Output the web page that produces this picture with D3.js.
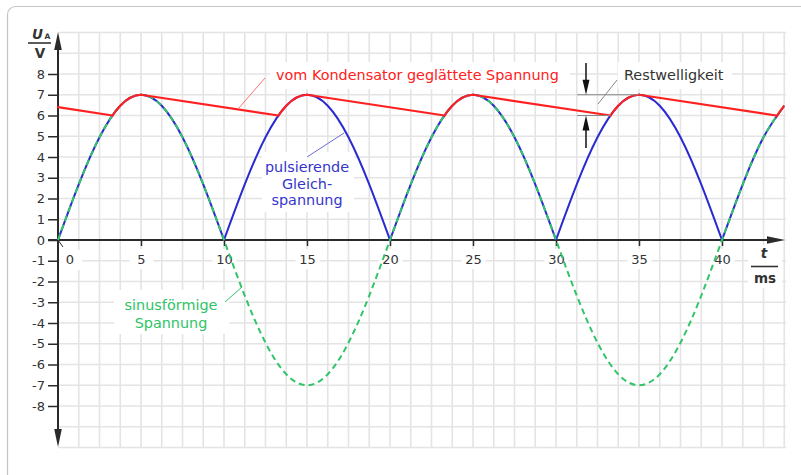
<!DOCTYPE html>
<html>
<head>
<meta charset="utf-8">
<script src="https://cdn.jsdelivr.net/npm/d3@7"></script>
<style>
  html, body { margin: 0; padding: 0; background: #fff; }
  svg { display: block; font-family: "DejaVu Sans", Verdana, sans-serif; }
</style>
</head>
<body>
<svg id="chart" width="801" height="475"></svg>
<script>
// Sample times (ms) on the 1.25 ms grid
const timeMs = [0, 1.25, 2.5, 3.75, 5, 6.25, 7.5, 8.75, 10, 11.25, 12.5, 13.75, 15, 16.25, 17.5, 18.75,
                20, 21.25, 22.5, 23.75, 25, 26.25, 27.5, 28.75, 30, 31.25, 32.5, 33.75, 35, 36.25, 37.5, 38.75,
                40, 41.25, 42.5, 43.75];
// Sinusoidal voltage (V)
const sineVolts = [0, 2.68, 4.95, 6.47, 7, 6.47, 4.95, 2.68, 0, -2.68, -4.95, -6.47, -7, -6.47, -4.95, -2.68,
                   0, 2.68, 4.95, 6.47, 7, 6.47, 4.95, 2.68, 0, -2.68, -4.95, -6.47, -7, -6.47, -4.95, -2.68,
                   0, 2.68, 4.95, 6.47];
// Full-wave rectified (pulsating DC) voltage (V)
const pulsedVolts = [0, 2.68, 4.95, 6.47, 7, 6.47, 4.95, 2.68, 0, 2.68, 4.95, 6.47, 7, 6.47, 4.95, 2.68,
                     0, 2.68, 4.95, 6.47, 7, 6.47, 4.95, 2.68, 0, 2.68, 4.95, 6.47, 7, 6.47, 4.95, 2.68,
                     0, 2.68, 4.95, 6.47];
// Capacitor-smoothed voltage: corner points (discharge lines, charging follows the rectified wave)
const smoothTimes = [0, 3.28, 5, 13.28, 15, 23.28, 25, 33.28, 35, 43.28, 43.75];
const smoothVolts = [6.4, 6.0, 7, 6.0, 7, 6.0, 7, 6.0, 7, 6.0, 6.47];

const xTickValues = [5, 10, 15, 20, 25, 30, 35, 40];
const yTickValues = [8, 7, 6, 5, 4, 3, 2, 1, 0, -1, -2, -3, -4, -5, -6, -7, -8];

const colors = { red: "#ff2020", blue: "#2a2ad2", green: "#33c46a", axis: "#2a2a2a", grid: "#e4e4e4", text: "#333" };

const svg = d3.select("#chart");

// Scales: 1 ms = 16.6 px, 1 V = 20.75 px
const x = d3.scaleLinear().domain([0, 43.75]).range([58, 58 + 43.75 * 16.6]);
const y = d3.scaleLinear().domain([-10, 10]).range([447.5, 32.5]);

// Card frame
svg.append("rect").attr("x", 7.5).attr("y", 6.5).attr("width", 830).attr("height", 520)
  .attr("rx", 8).attr("fill", "#fff").attr("stroke", "#c4c4c4").attr("stroke-width", 1.2);

// Grid
const grid = svg.append("g").attr("stroke", colors.grid).attr("stroke-width", 1.6);
const gridTimes = d3.range(1, 36).map(k => k * 1.25);
const gridVolts = d3.range(-10, 11);
grid.selectAll("line.v").data(gridTimes).join("line")
  .attr("x1", d => x(d)).attr("x2", d => x(d)).attr("y1", y(10)).attr("y2", y(-10));
grid.selectAll("line.h").data(gridVolts).join("line")
  .attr("x1", x(0)).attr("x2", x(43.75) + 2).attr("y1", d => y(d)).attr("y2", d => y(d));

// White backgrounds behind labels sitting on the grid
const bgs = svg.append("g").attr("fill", "#fff");
[[270, 62, 300, 27], [618, 62, 114, 27], [262, 152, 92, 60], [114, 290, 115, 44], [748, 245, 34, 43], [60, 250, 22, 20]]
  .forEach(([bx, by, bw, bh]) => bgs.append("rect").attr("x", bx).attr("y", by).attr("width", bw).attr("height", bh));

// Y axis
const yAxis = d3.axisLeft(y).tickValues(yTickValues).tickSize(10).tickPadding(3).tickFormat(d => String(d));
const gy = svg.append("g").attr("transform", `translate(${x(0)},0)`).call(yAxis);
gy.select(".domain").remove();
gy.selectAll(".tick line").attr("stroke", colors.axis).attr("stroke-width", 1.5);
gy.selectAll(".tick text").attr("fill", colors.text).attr("font-size", 13).attr("font-family", "DejaVu Sans, Verdana, sans-serif");

// X axis
const xAxis = d3.axisBottom(x).tickValues(xTickValues).tickSize(6).tickPadding(9).tickFormat(d => String(d));
const gx = svg.append("g").attr("transform", `translate(0,${y(0)})`).call(xAxis);
gx.select(".domain").remove();
gx.selectAll(".tick").insert("rect", "text").attr("x", -12).attr("y", 9).attr("width", 24).attr("height", 20).attr("fill", "#fff");
gx.selectAll(".tick line").attr("stroke", colors.axis).attr("stroke-width", 1.5);
gx.selectAll(".tick text").attr("fill", colors.text).attr("font-size", 13).attr("font-family", "DejaVu Sans, Verdana, sans-serif");

// Origin label "0" with its short leader
svg.append("line").attr("x1", x(0)).attr("y1", y(0)).attr("x2", x(0) + 5).attr("y2", y(0) + 7)
  .attr("stroke", colors.axis).attr("stroke-width", 1);
svg.append("text").attr("x", 70).attr("y", 264).attr("text-anchor", "middle")
  .attr("font-size", 13).attr("fill", colors.text).text("0");

// Axis lines with arrowheads
const axes = svg.append("g");
axes.append("line").attr("x1", x(0)).attr("x2", x(0)).attr("y1", 48).attr("y2", 432)
  .attr("stroke", colors.axis).attr("stroke-width", 2);
axes.append("path").attr("d", `M${x(0)},32 L${x(0) - 3.8},50 L${x(0) + 3.8},50 Z`).attr("fill", colors.axis);
axes.append("path").attr("d", `M${x(0)},447 L${x(0) - 3.8},429 L${x(0) + 3.8},429 Z`).attr("fill", colors.axis);
axes.append("line").attr("x1", x(0) - 10).attr("x2", 770).attr("y1", y(0)).attr("y2", y(0))
  .attr("stroke", colors.axis).attr("stroke-width", 2);
axes.append("path").attr("d", `M785,${y(0)} L767,${y(0) - 3.8} L767,${y(0) + 3.8} Z`).attr("fill", colors.axis);

// Curves
const pts = (ts, vs) => ts.map((t, i) => [t, vs[i]]);
const line = d3.line().x(d => x(d[0])).y(d => y(d[1]));
const smoothLine = d3.line().x(d => x(d[0])).y(d => y(d[1])).curve(d3.curveNatural);

// Rectified wave: one smooth arc per half period, sharp cusps at the zeros
const pulsed = pts(timeMs, pulsedVolts);
const humps = [];
let start = 0;
pulsed.forEach((p, i) => {
  if (i > start && p[1] === 0) { humps.push(pulsed.slice(start, i + 1)); start = i; }
});
if (start < pulsed.length - 1) humps.push(pulsed.slice(start));
const humpPath = humps.map(h => smoothLine(h)).join("");

svg.append("path").attr("d", humpPath).attr("fill", "none")
  .attr("stroke", colors.blue).attr("stroke-width", 2).attr("stroke-linejoin", "round");

// Sine wave, dashed
svg.append("path").attr("d", smoothLine(pts(timeMs, sineVolts))).attr("fill", "none")
  .attr("stroke", colors.green).attr("stroke-width", 2).attr("stroke-dasharray", "6,4");

// Smoothed voltage: straight discharge lines, charging along the rectified arc
const defs = svg.append("defs");
const red = svg.append("g").attr("fill", "none").attr("stroke", colors.red).attr("stroke-width", 2.2);
for (let i = 0; i < smoothTimes.length - 1; i++) {
  const a = [smoothTimes[i], smoothVolts[i]], b = [smoothTimes[i + 1], smoothVolts[i + 1]];
  if (b[1] < a[1]) {
    red.append("path").attr("d", line([a, b])).attr("stroke-linecap", "round");
  } else {
    const id = "charge" + i;
    defs.append("clipPath").attr("id", id).append("rect")
      .attr("x", x(a[0])).attr("width", x(b[0]) - x(a[0]) + 0.6).attr("y", 0).attr("height", 475);
    red.append("path").attr("d", humpPath).attr("clip-path", `url(#${id})`);
  }
}

// Annotations
const ann = svg.append("g").attr("font-size", 14.4);

// Smoothed voltage label
ann.append("line").attr("x1", 238).attr("y1", 109).attr("x2", 265).attr("y2", 78)
  .attr("stroke", "#ff7070").attr("stroke-width", 1);
ann.append("text").attr("x", 276).attr("y", 80).attr("fill", colors.red).text("vom Kondensator geglättete Spannung");

// Ripple annotation
const rx = 586;
ann.append("line").attr("x1", 577).attr("x2", x(35)).attr("y1", y(7)).attr("y2", y(7)).attr("stroke", "#888").attr("stroke-width", 1);
ann.append("line").attr("x1", 577).attr("x2", x(33.28)).attr("y1", y(6)).attr("y2", y(6)).attr("stroke", "#888").attr("stroke-width", 1);
ann.append("line").attr("x1", rx).attr("x2", rx).attr("y1", 63).attr("y2", y(7) - 10).attr("stroke", "#111").attr("stroke-width", 1.5);
ann.append("path").attr("d", `M${rx},${y(7)} L${rx - 3.5},${y(7) - 15} L${rx + 3.5},${y(7) - 15} Z`).attr("fill", "#111");
ann.append("line").attr("x1", rx).attr("x2", rx).attr("y1", y(6) + 10).attr("y2", 148).attr("stroke", "#111").attr("stroke-width", 1.5);
ann.append("path").attr("d", `M${rx},${y(6)} L${rx - 3.5},${y(6) + 15} L${rx + 3.5},${y(6) + 15} Z`).attr("fill", "#111");
ann.append("line").attr("x1", 598).attr("y1", 104).attr("x2", 617).attr("y2", 80).attr("stroke", "#888").attr("stroke-width", 1);
ann.append("text").attr("x", 624).attr("y", 80).attr("fill", colors.text).text("Restwelligkeit");

// Pulsating DC label
ann.append("line").attr("x1", 307).attr("y1", 157).attr("x2", 344).attr("y2", 133)
  .attr("stroke", "#6a6ae0").attr("stroke-width", 1);
const pulsText = ann.append("text").attr("text-anchor", "middle").attr("fill", "#3535cc");
["pulsierende", "Gleich-", "spannung"].forEach((s, i) =>
  pulsText.append("tspan").attr("x", 307).attr("y", 172 + i * 16.6).text(s));

// Sine label
ann.append("line").attr("x1", 225).attr("y1", 302).attr("x2", 242).attr("y2", 287)
  .attr("stroke", colors.green).attr("stroke-width", 1);
const sinText = ann.append("text").attr("text-anchor", "middle").attr("fill", "#2ec466");
["sinusförmige", "Spannung"].forEach((s, i) =>
  sinText.append("tspan").attr("x", 171).attr("y", 310 + i * 18).text(s));

// Axis titles as fractions
const titles = svg.append("g").attr("fill", colors.text).attr("font-weight", "bold");
const uText = titles.append("text").attr("x", 32).attr("y", 38.5).attr("font-size", 13.5);
uText.append("tspan").attr("font-style", "italic").text("U");
uText.append("tspan").attr("font-size", 7.5).attr("dx", 1.5).text("A");
titles.append("line").attr("x1", 28).attr("x2", 51).attr("y1", 43).attr("y2", 43).attr("stroke", colors.text).attr("stroke-width", 1.6);
titles.append("text").attr("x", 40).attr("y", 58).attr("font-size", 13.5).attr("text-anchor", "middle").text("V");

titles.append("text").attr("x", 764).attr("y", 258).attr("font-size", 13.5).attr("font-style", "italic").attr("text-anchor", "middle").text("t");
titles.append("line").attr("x1", 751).attr("x2", 778).attr("y1", 266.5).attr("y2", 266.5).attr("stroke", colors.text).attr("stroke-width", 1.6);
titles.append("text").attr("x", 765).attr("y", 283).attr("font-size", 13.5).attr("text-anchor", "middle").text("ms");
</script>
</body>
</html>
